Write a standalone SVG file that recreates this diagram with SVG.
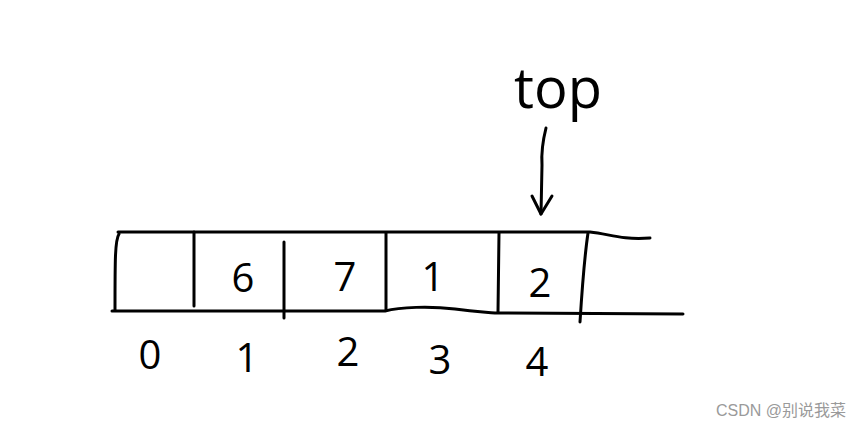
<svg xmlns="http://www.w3.org/2000/svg" width="868" height="428" viewBox="0 0 868 428">
<style>
.ln{fill:none;stroke:#000;stroke-width:3;stroke-linecap:round;stroke-linejoin:round}
.hw{font-family:"Open Sans","DejaVu Sans",sans-serif;fill:#000;font-weight:400;text-anchor:middle}
.wm{font-family:"Liberation Sans","Noto Sans CJK SC",sans-serif;font-size:16px;fill:#9a9a9a}
</style>
<rect width="868" height="428" fill="#fff"/>
<g id="connectors">
<path class="ln" d="M546,128 C543,140 541,150 542,165 L541,214"/>
<path class="ln" d="M532,196 L541,214 L552,196"/>
</g>
<g id="array">
<path class="ln" d="M118,232 L590,232 C610,234 620,240 650,238"/>
<path class="ln" d="M112,311 L385,311 C400,307 430,306 455,309 C475,312 485,312 495,313 L683,314"/>
<path class="ln" d="M119,234 C115,240 115,260 115,310"/>
<path class="ln" d="M194,232 L194,306"/>
<path class="ln" d="M284,242 L284,318"/>
<path class="ln" d="M386,233 L386,310"/>
<path class="ln" d="M499,233 L498,312"/>
<path class="ln" d="M588,233 C584,260 582,290 580,322"/>
</g>
<g id="cell-values">
<text class="hw" x="243" y="292" font-size="40">6</text>
<text class="hw" x="345" y="291" font-size="40">7</text>
<text class="hw" x="433" y="291" font-size="40">1</text>
<text class="hw" x="540" y="297" font-size="40">2</text>
</g>
<g id="indices">
<text class="hw" x="150" y="369" font-size="40">0</text>
<text class="hw" x="247" y="372" font-size="40">1</text>
<text class="hw" x="348" y="366" font-size="40">2</text>
<text class="hw" x="440" y="374" font-size="40">3</text>
<text class="hw" x="537" y="376" font-size="40">4</text>
</g>
<g id="top-label">
<text class="hw" x="558" y="108" font-size="56">top</text>
</g>
<text class="wm" x="716" y="416">CSDN @别说我菜</text>
</svg>
